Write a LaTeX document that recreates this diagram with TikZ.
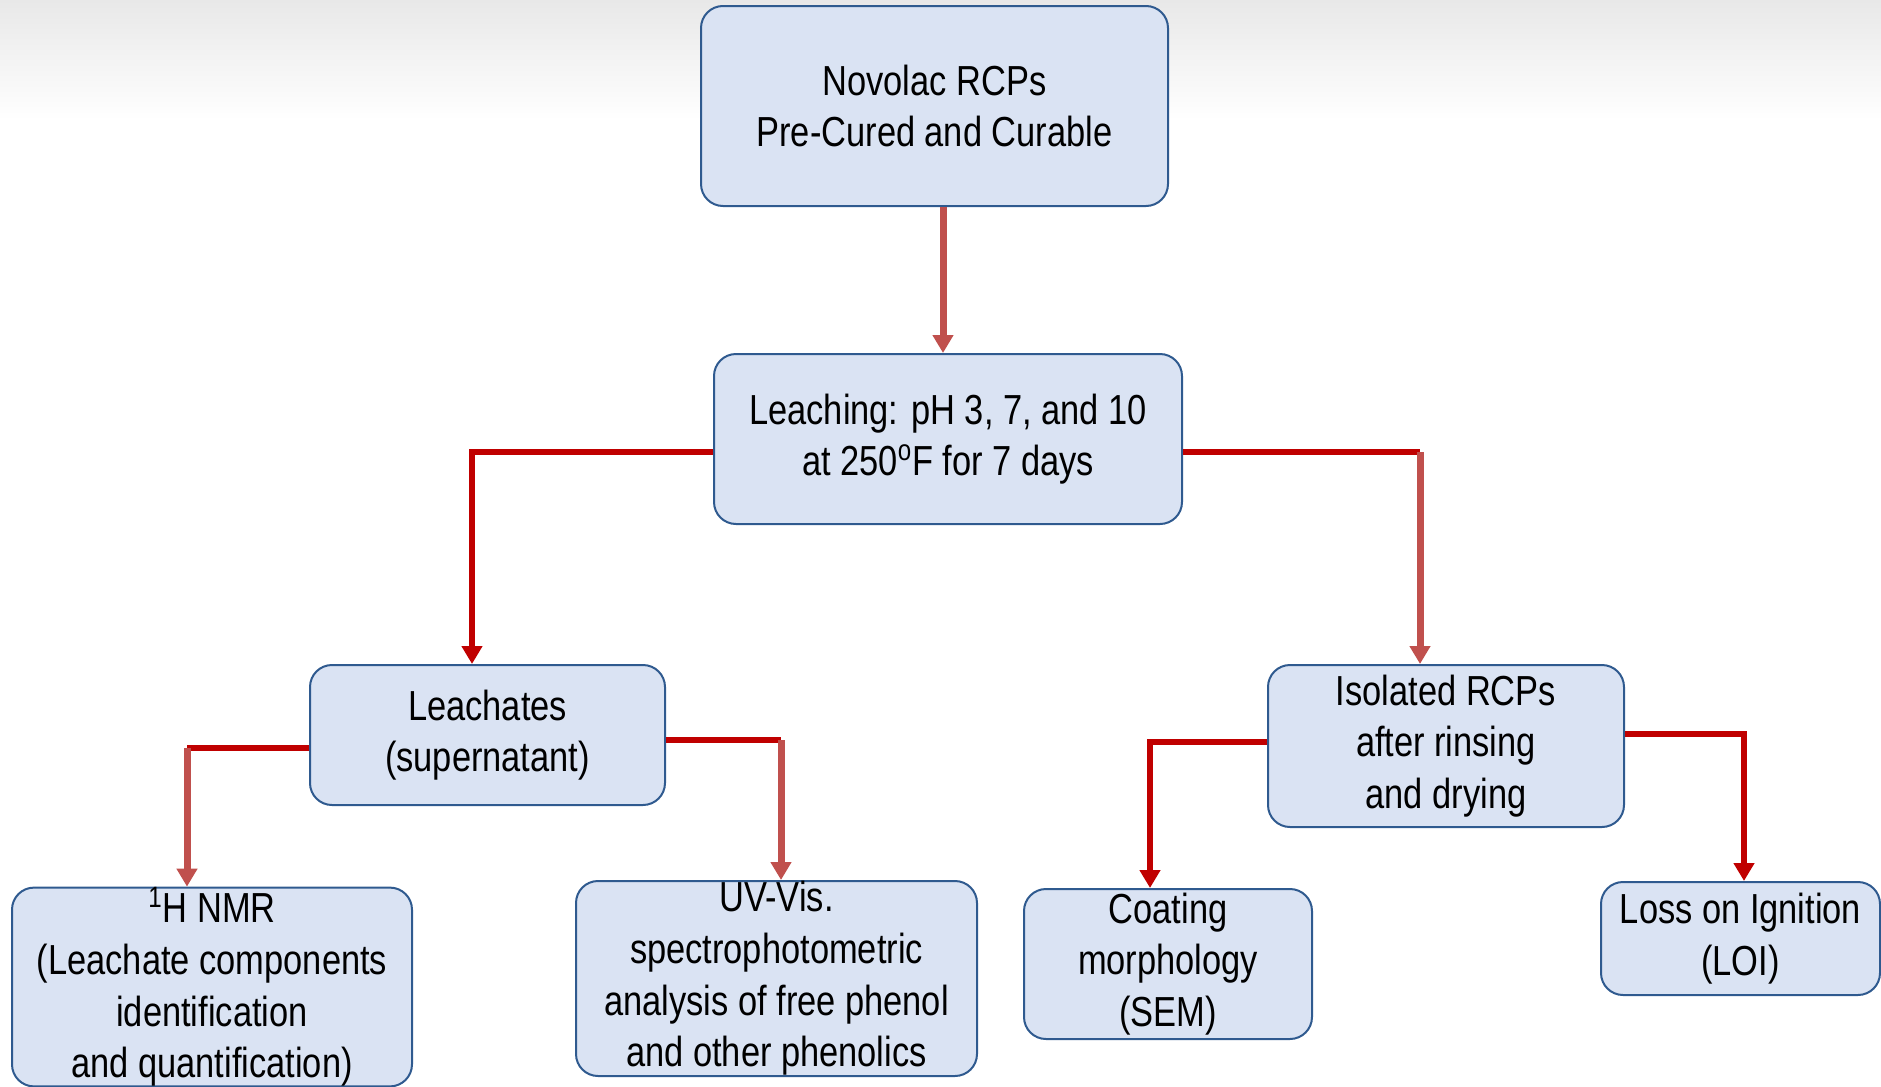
\documentclass[tikz,border=0pt]{standalone}
\usepackage{fontspec}
\setmainfont[FakeStretch=0.82]{Liberation Sans}
\usetikzlibrary{arrows.meta}
\definecolor{boxfill}{HTML}{DAE3F3}
\definecolor{boxline}{HTML}{2F5A8F}
\definecolor{darkred}{HTML}{C00000}
\definecolor{softred}{HTML}{C0504D}

\begin{document}
\begin{tikzpicture}[x=0.5pt,y=-0.5pt,>={Triangle[width=10pt,length=9pt]},
	box/.style={draw=boxline,fill=boxfill,line width=1pt,rounded corners=11pt,align=center,inner sep=0pt,font=\fontsize{21}{25.8}\selectfont},
	hred/.style={draw=darkred,line width=3pt},
	lred/.style={draw=softred,line width=3.5pt}]
	\useasboundingbox (0,0) rectangle (1881,1087);
	\shade[top color=black!9,bottom color=white] (0,0) rectangle (1881,120);

	\node[box,minimum width=233.5pt,minimum height=100pt] (novolac) at (934.5,106) {Novolac RCPs\\Pre-Cured and Curable};
	\node[box,minimum width=234pt,minimum height=85pt] (leach) at (948,439) {Leaching: pH 3, 7, and 10\\at 250\textsuperscript{o}F for 7 days};
	\node[box,minimum width=177.5pt,minimum height=70pt] (leachates) at (487.5,735) {Leachates\\(supernatant)};
	\node[box,minimum width=178pt,minimum height=81pt] (isolated) at (1446,746) {Isolated RCPs\\after rinsing\\and drying};
	\node[box,minimum width=200pt,minimum height=98pt] (nmr) at (212,987) {\textsuperscript{1}H NMR\\(Leachate components\\identification\\and quantification)};
	\node[box,minimum width=200.5pt,minimum height=97.5pt] (uvvis) at (776.5,978.5) {UV-Vis.\\spectrophotometric\\analysis of free phenol\\and other phenolics};
	\node[box,minimum width=144pt,minimum height=75pt] (sem) at (1168,964) {Coating\\morphology\\(SEM)};
	\node[box,minimum width=139.5pt,minimum height=56.5pt] (loi) at (1740.5,938.5) {Loss on Ignition\\(LOI)};

	% elbows
	\coordinate (jt) at (943,280);
	\coordinate (jl) at (472,452);
	\coordinate (jr) at (1420,452);
	\coordinate (ja) at (187,748);
	\coordinate (jb) at (781,740);
	\coordinate (jc) at (1150,742);
	\coordinate (jd) at (1744,734);

	\draw[lred,->] (novolac.south -| jt) -- (jt |- leach.north);
	\draw[hred,->] (leach.west |- jl) -- (jl) -- (jl |- leachates.north);
	\draw[hred] (leach.east |- jr) -- (jr);
	\draw[lred,->] (jr) -- (jr |- isolated.north);
	\draw[hred] (leachates.west |- ja) -- (ja);
	\draw[lred,->] (ja) -- (ja |- nmr.north);
	\draw[hred] (leachates.east |- jb) -- (jb);
	\draw[lred,->] (jb) -- (jb |- uvvis.north);
	\draw[hred,->] (isolated.west |- jc) -- (jc) -- (jc |- sem.north);
	\draw[hred,->] (isolated.east |- jd) -- (jd) -- (jd |- loi.north);
\end{tikzpicture}
\end{document}
